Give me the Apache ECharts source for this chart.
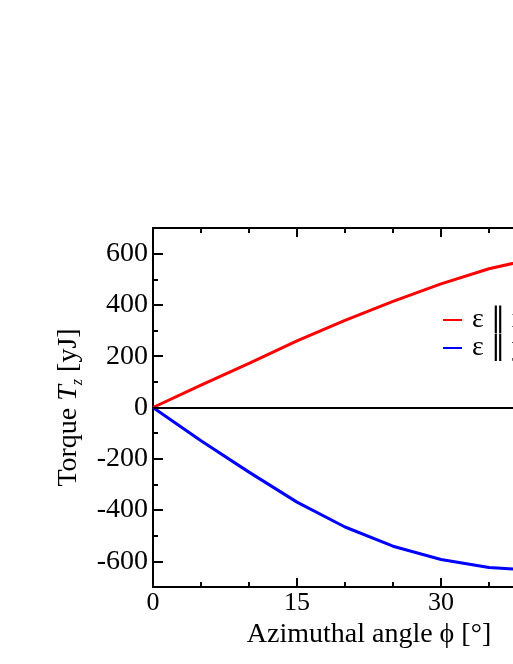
<!DOCTYPE html>
<html><head><meta charset="utf-8">
<script src="https://cdn.jsdelivr.net/npm/echarts@6/dist/echarts.min.js"></script>
<style>html,body{margin:0;padding:0;background:#fff}#c{width:513px;height:664px}</style>
</head><body><div id="c"></div>
<script>
const angles = [0, 5, 10, 15, 20, 25, 30, 35, 40, 45];
const torqueRed = [0, 87, 172, 260, 340, 414, 482, 541, 583, 612];
const torqueBlue = [0, -130, -252, -369, -466, -541, -593, -624, -636, -630];
const seriesNames = ['ε ∥ x', 'ε ∥ y'];
const yMajorTicks = [-600, -400, -200, 0, 200, 400, 600];
const yMinorTicks = [-700, -500, -300, -100, 100, 300, 500, 700];

const FONT = '"Liberation Serif", "Times New Roman", serif';
const chart = echarts.init(document.getElementById('c'), null, {renderer: 'canvas'});
const toPairs = (xs, ys) => xs.map((x, i) => [x, ys[i]]);
const axisLineStyle = {color: '#000', width: 2};

chart.setOption({
  animation: false,
  backgroundColor: '#fff',
  grid: {left: 153, top: 228, width: 432, height: 359, show: false, containLabel: false, outerBoundsMode: 'none'},
  legend: {
    left: 443, top: 306, orient: 'vertical', padding: 0,
    icon: 'rect', itemWidth: 19, itemHeight: 2, itemGap: 0,
    textStyle: {fontFamily: FONT, fontSize: 28, color: '#000', lineHeight: 28, padding: [0, 0, 0, 5]},
    data: seriesNames
  },
  xAxis: [{
    type: 'value', min: 0, max: 45, interval: 15, position: 'bottom',
    axisLine: {show: true, onZero: false, lineStyle: axisLineStyle},
    axisTick: {show: true, inside: true, length: 9, lineStyle: {color: '#000', width: 2}},
    minorTick: {show: true, splitNumber: 3, length: 5, lineStyle: {color: '#000', width: 2}},
    axisLabel: {color: '#000', fontFamily: FONT, fontSize: 26, margin: 3},
    splitLine: {show: false},
    name: 'Azimuthal angle ϕ [°]', nameLocation: 'middle', nameGap: 27,
    nameTextStyle: {color: '#000', fontFamily: FONT, fontSize: 28}
  }, {
    type: 'value', min: 0, max: 45, interval: 15, position: 'top',
    axisLine: {show: true, onZero: false, lineStyle: axisLineStyle},
    axisTick: {show: true, inside: true, length: 9, lineStyle: {color: '#000', width: 2}},
    minorTick: {show: true, splitNumber: 3, length: 5, lineStyle: {color: '#000', width: 2}},
    axisLabel: {show: false}, splitLine: {show: false}
  }],
  yAxis: [{
    type: 'value', min: -700, max: 700, position: 'left',
    axisLine: {show: true, onZero: false, lineStyle: axisLineStyle},
    axisTick: {show: true, inside: true, length: 10, customValues: yMajorTicks, lineStyle: {color: '#000', width: 2}},
    axisLabel: {color: '#000', fontFamily: FONT, fontSize: 28, margin: 5, customValues: yMajorTicks},
    splitLine: {show: false},
    name: '{a|Torque }{i|T}{s|z}{a| [yJ]}', nameLocation: 'middle', nameGap: 60, nameRotate: 90,
    nameTextStyle: {
      color: '#000', fontFamily: FONT,
      rich: {
        a: {fontFamily: FONT, fontSize: 28, color: '#000', lineHeight: 34, verticalAlign: 'middle'},
        i: {fontFamily: FONT, fontSize: 28, color: '#000', fontStyle: 'italic', lineHeight: 34, verticalAlign: 'middle'},
        s: {fontFamily: FONT, fontSize: 16, color: '#000', fontStyle: 'italic', lineHeight: 16, verticalAlign: 'bottom'}
      }
    }
  }, {
    type: 'value', min: -700, max: 700, position: 'left',
    axisLine: {show: false, onZero: false},
    axisTick: {show: true, inside: true, length: 5, customValues: yMinorTicks, lineStyle: {color: '#000', width: 2}},
    axisLabel: {show: false}, splitLine: {show: false}
  }, {
    type: 'value', min: -700, max: 700, position: 'right',
    axisLine: {show: true, onZero: false, lineStyle: axisLineStyle},
    axisTick: {show: true, inside: true, length: 10, customValues: yMajorTicks, lineStyle: {color: '#000', width: 2}},
    axisLabel: {show: false}, splitLine: {show: false}
  }],
  series: [{
    name: seriesNames[0], type: 'line', data: toPairs(angles, torqueRed),
    symbol: 'none', lineStyle: {color: '#ff0000', width: 3}, itemStyle: {color: '#ff0000'},
    markLine: {
      silent: true, symbol: 'none', label: {show: false},
      lineStyle: {color: '#000', width: 2, type: 'solid'},
      data: [{yAxis: 0}]
    }
  }, {
    name: seriesNames[1], type: 'line', data: toPairs(angles, torqueBlue),
    symbol: 'none', lineStyle: {color: '#0000ff', width: 3}, itemStyle: {color: '#0000ff'}
  }]
});
</script></body></html>
